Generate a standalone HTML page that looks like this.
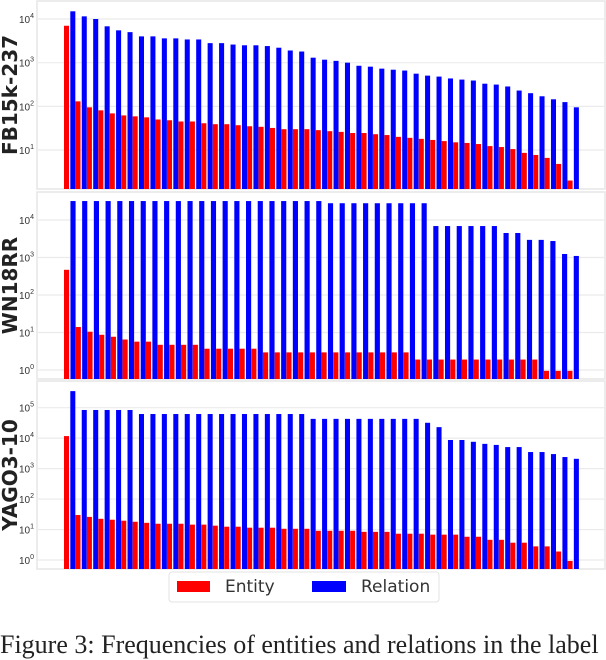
<!DOCTYPE html>
<html><head><meta charset="utf-8">
<style>
body{margin:0;background:#fff;width:606px;height:638px;overflow:hidden;font-family:"Liberation Sans","DejaVu Sans",sans-serif;}
#chart{position:absolute;left:0;top:0;}
#caption{position:absolute;left:0;top:630px;font-family:"Liberation Serif",serif;font-size:26px;line-height:30px;color:#222;white-space:nowrap;}
</style></head>
<body>
<svg id="chart" width="606" height="638" xmlns="http://www.w3.org/2000/svg"></svg>
<div id="caption">Figure 3: Frequencies of entities and relations in the label</div>
<script>
const fbEntity=[7000,130,95,81,69,62,59,56,50,48,45,45,41,39,39,37,35,34,32,30,30,30,28.5,27,26,24.5,24.5,23,22,20,19,18,17,16,15,14.5,13.7,12.3,11.7,10.5,8.6,7.7,6.6,4.8,2.0];
const fbRelation=[15000,11500,10000,6800,5500,5000,4000,4000,3600,3600,3400,3400,2800,2800,2600,2500,2500,2400,2200,1900,1800,1300,1170,1100,1000,850,810,730,690,660,560,505,480,435,410,390,330,315,285,230,200,170,145,125,95];
const wnEntity=[470,14,10.5,8.7,7.7,6.5,5.7,5.7,4.7,4.7,4.7,4.7,3.7,3.7,3.7,3.7,3.7,2.95,2.95,2.95,2.95,2.95,2.95,2.95,2.95,2.95,2.95,2.95,2.95,2.95,1.9,1.9,1.9,1.9,1.9,1.9,1.9,1.9,1.9,1.9,1.9,0.95,0.95,0.95];
const wnRelation=[32000,32000,32000,32000,32000,32000,32000,32000,32000,32000,32000,32000,32000,32000,32000,32000,32000,32000,32000,32000,32000,32000,28000,28000,28000,28000,28000,28000,28000,28000,28000,6900,6900,6900,6900,6900,6900,4500,4500,2950,2950,2750,1240,1100];
const yaEntity=[11700,30,26,22.5,21,19.5,18,16.6,15.5,15.5,15.5,14.5,14.5,13.4,12.4,12.4,11.5,11.5,11.5,10.6,10.6,10.6,9.1,9.1,9.1,9.1,8.4,8.4,8.4,7.3,7.3,7.3,6.8,6.8,6.8,5.8,5.8,4.6,4.6,3.7,3.7,2.8,2.8,1.9,0.93];
const yaRelation=[350000,84000,84000,84000,84000,84000,62000,62000,62000,62000,62000,62000,62000,62000,62000,62000,62000,62000,62000,62000,62000,43000,43000,43000,43000,43000,43000,43000,43000,43000,43000,32000,23000,8700,8700,7600,6500,6000,5100,5100,3500,3500,3000,2400,2100];
const fbTicks=[1,2,3,4];
const wnTicks=[0,1,2,3,4];
const yaTicks=[0,1,2,3,4,5];

const NS="http://www.w3.org/2000/svg";
const svg=document.getElementById('chart');
function mk(tag,attrs,parent){const e=document.createElementNS(NS,tag);for(const k in attrs)e.setAttribute(k,attrs[k]);(parent||svg).appendChild(e);return e;}

const panels=[
 {name:'FB15k-237',key:'fb',top:1,bottom:189,refExp:4,refY:19,perDec:43.67,ticks:fbTicks,ent:fbEntity,rel:fbRelation},
 {name:'WN18RR',key:'wn',top:192,bottom:379,refExp:0,refY:370,perDec:37.5,ticks:wnTicks,ent:wnEntity,rel:wnRelation},
 {name:'YAGO3-10',key:'yago',top:381,bottom:569,refExp:0,refY:560,perDec:30.46,ticks:yaTicks,ent:yaEntity,rel:yaRelation}
];
const xL=37,xR=605,xStart=64,xEnd=579;
panels.forEach(p=>{
  const g=mk('g',{});
  
  
  const y=v=>p.refY-(Math.log10(v)-p.refExp)*p.perDec;
  const frame=mk('rect',{x:xL,y:p.top,width:xR-xL,height:p.bottom-p.top,fill:'#fff',stroke:'#e6e6e6','stroke-width':1.5},g);
  
  
  p.ticks.forEach(t=>{
    const yy=y(Math.pow(10,t));
    const gl=mk('line',{x1:xL,x2:xR,y1:yy,y2:yy,stroke:'#ebebeb','stroke-width':1.2},g);
    
    
    const tx=mk('text',{x:34,y:yy+4,'font-size':10,fill:'#333','text-anchor':'end'},g);
    
    
    tx.textContent='10';
    const sup=mk('tspan',{dy:-5,'font-size':7},tx);
    sup.textContent=String(t);
  });
  const n=p.ent.length;
  const band=(xEnd-xStart)/n;
  const bw=band*0.44;
  for(let i=0;i<n;i++){
    const x0=xStart+i*band;
    const ye=Math.max(p.top,y(p.ent[i]));
    const r=mk('rect',{x:x0,y:ye,width:bw,height:p.bottom-ye,fill:'#ff0000'},g);
    
    
    const yr=Math.max(p.top+1,y(p.rel[i]));
    const b=mk('rect',{x:x0+band*0.55,y:yr,width:bw,height:p.bottom-yr,fill:'#0000ff'},g);
    
    
  }
  const cy=(p.top+p.bottom)/2;
  const lab=mk('text',{x:0,y:0,'font-size':20,'font-weight':'bold',fill:'#222','text-anchor':'middle',transform:`translate(17,${cy}) rotate(-90)`},g);
  
  
  lab.setAttribute('font-family','DejaVu Sans, sans-serif');
  lab.textContent=p.name;
});
// legend
const lg=mk('g',{});


mk('rect',{x:169,y:572,width:270,height:30,rx:3,fill:'#fff',stroke:'#e3e3e3','stroke-width':1},lg);
const e1=mk('g',{},lg);


mk('rect',{x:177,y:581,width:33,height:11,fill:'#ff0000'},e1);
const t1=mk('text',{x:225,y:592,'font-size':17,fill:'#333','font-family':'DejaVu Sans, sans-serif'},e1);t1.textContent='Entity';
const e2=mk('g',{},lg);


mk('rect',{x:312,y:581,width:34,height:11,fill:'#0000ff'},e2);
const t2=mk('text',{x:361,y:592,'font-size':17,fill:'#333','font-family':'DejaVu Sans, sans-serif'},e2);t2.textContent='Relation';
</script>
</body></html>
